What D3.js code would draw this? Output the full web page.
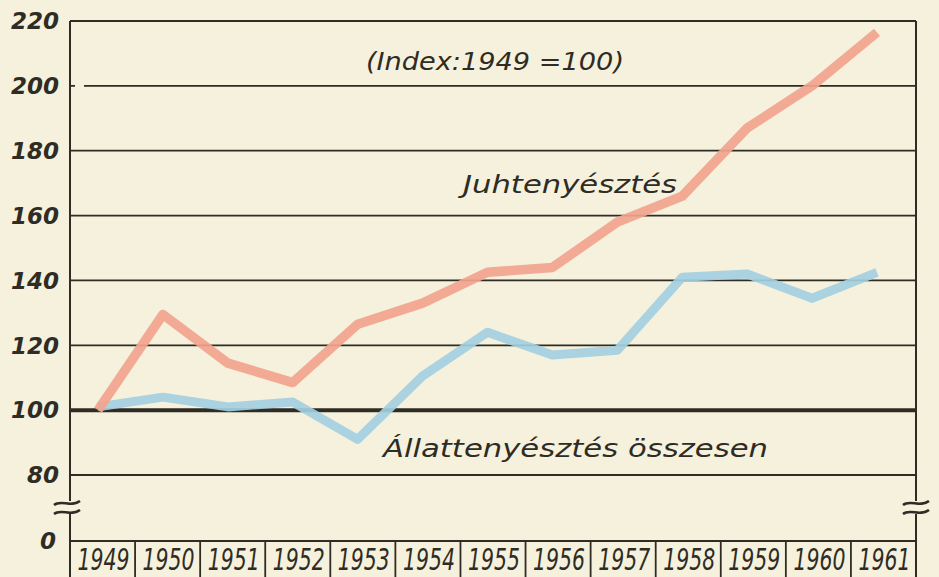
<html>

<head>
    <script src="https://d3js.org/d3.v7.min.js"></script>
    <title>Juhtenyésztés index</title>
    <style>
        body { margin: 0; background: #f5f1dd; }
        text { font-family: "DejaVu Sans", sans-serif; font-style: italic; fill: #2e2c24; }
    </style>
</head>

<body>
    <div id="vis"></div>
</body>

<script>

    // data (index, 1949 = 100)
    var years = ["1949", "1950", "1951", "1952", "1953", "1954", "1955", "1956", "1957", "1958", "1959", "1960", "1961"];
    var juh = [100, 129.5, 114.5, 108.5, 126.5, 133, 142.5, 144, 158, 166, 187, 200, 216.5];
    var osszes = [101, 104, 101, 102.5, 91, 110.5, 124, 117, 118.5, 141, 142, 134.5, 142.5];
    var yTicks = [0, 80, 100, 120, 140, 160, 180, 200, 220];

    var W = 939, H = 577;
    var plotLeft = 70, plotRight = 916, plotTop = 21, plotBase = 541;

    var svg = d3.select("#vis")
        .append("svg")
        .attr("width", W)
        .attr("height", H);

    // broken axis: 0 sits below the break, 80..220 above it
    var y = d3.scaleLinear()
        .domain([0, 80, 220])
        .range([plotBase, 475, plotTop]);

    // year columns
    var band = d3.scaleBand()
        .domain(years)
        .range([plotLeft, plotRight]);

    // points sit a little left of the column middle
    var x = d3.scalePoint()
        .domain(years)
        .range([98, 877]);

    var ink = "#2e2c24";

    // horizontal grid lines
    svg.append("g")
        .selectAll("line")
        .data(yTicks.filter(function (d) { return d > 0; }))
        .enter()
        .append("line")
        .attr("x1", plotLeft)
        .attr("x2", plotRight)
        .attr("y1", function (d) { return y(d); })
        .attr("y2", function (d) { return y(d); })
        .attr("stroke", ink)
        .attr("stroke-width", function (d) { return d === 100 ? 4 : 1.8; })
        .attr("stroke-dasharray", function (d) { return d === 200 ? "5,9,2000" : null; });

    // base line
    svg.append("line")
        .attr("x1", plotLeft).attr("x2", plotRight)
        .attr("y1", plotBase).attr("y2", plotBase)
        .attr("stroke", ink).attr("stroke-width", 1.8);

    // vertical axes, interrupted at the break
    var breakY = 508;
    [plotLeft, plotRight].forEach(function (xx) {
        svg.append("line")
            .attr("x1", xx).attr("x2", xx)
            .attr("y1", plotTop).attr("y2", breakY - 7)
            .attr("stroke", ink).attr("stroke-width", 2);
        svg.append("line")
            .attr("x1", xx).attr("x2", xx)
            .attr("y1", breakY + 6).attr("y2", H)
            .attr("stroke", ink).attr("stroke-width", 2);
    });

    // break marks
    function wave(cx, cy) {
        return "M" + (cx - 13) + "," + (cy + 2) +
            " C" + (cx - 6) + "," + (cy - 4) + " " + (cx + 4) + "," + (cy + 5) + " " + (cx + 13) + "," + (cy - 2);
    }
    [[plotLeft - 3, breakY - 5], [plotLeft - 3, breakY + 4], [plotRight, breakY - 5], [plotRight, breakY + 4]].forEach(function (p) {
        svg.append("path")
            .attr("d", wave(p[0], p[1]))
            .attr("fill", "none")
            .attr("stroke", ink)
            .attr("stroke-width", 2.5);
    });

    // column dividers under the base line
    svg.append("g")
        .selectAll("line")
        .data(years.slice(1))
        .enter()
        .append("line")
        .attr("x1", function (d) { return band(d); })
        .attr("x2", function (d) { return band(d); })
        .attr("y1", plotBase)
        .attr("y2", H)
        .attr("stroke", ink)
        .attr("stroke-width", 1.8);

    // year labels
    svg.append("g")
        .selectAll("text")
        .data(years)
        .enter()
        .append("text")
        .attr("transform", function (d) {
            return "translate(" + (band(d) + band.bandwidth() / 2 + 1) + ",570) scale(1,1.5)";
        })
        .attr("text-anchor", "middle")
        .style("font-size", "20px")
        .attr("textLength", 52)
        .attr("lengthAdjust", "spacingAndGlyphs")
        .text(function (d) { return d; });

    // y labels
    svg.append("g")
        .selectAll("text")
        .data(yTicks)
        .enter()
        .append("text")
        .attr("x", function (d) { return d === 0 ? 56 : 59; })
        .attr("y", function (d) { return y(d); })
        .attr("dy", "0.36em")
        .attr("text-anchor", "end")
        .style("font-size", "23px")
        .style("font-weight", "bold")
        .text(function (d) { return d; });

    // series
    var line = d3.line()
        .x(function (d, i) { return x(years[i]); })
        .y(function (d) { return y(d); });

    svg.append("path")
        .datum(osszes)
        .attr("d", line)
        .attr("fill", "none")
        .attr("stroke", "#a3cfe0")
        .attr("stroke-width", 9)
        .attr("stroke-opacity", 0.92)
        .attr("stroke-linejoin", "round");

    svg.append("path")
        .datum(juh)
        .attr("d", line)
        .attr("fill", "none")
        .attr("stroke", "#f2a48e")
        .attr("stroke-width", 9.5)
        .attr("stroke-opacity", 0.92)
        .attr("stroke-linejoin", "round");

    // captions
    svg.append("text")
        .attr("x", 366).attr("y", 70)
        .attr("textLength", 258)
        .attr("lengthAdjust", "spacingAndGlyphs")
        .style("font-size", "24px")
        .text("(Index:1949 =100)");

    svg.append("text")
        .attr("x", 463).attr("y", 193)
        .attr("textLength", 214)
        .attr("lengthAdjust", "spacingAndGlyphs")
        .style("font-size", "25px")
        .text("Juhtenyésztés");

    svg.append("text")
        .attr("x", 383).attr("y", 457)
        .attr("textLength", 385)
        .attr("lengthAdjust", "spacingAndGlyphs")
        .style("font-size", "25px")
        .text("Állattenyésztés összesen");

</script>

</html>
